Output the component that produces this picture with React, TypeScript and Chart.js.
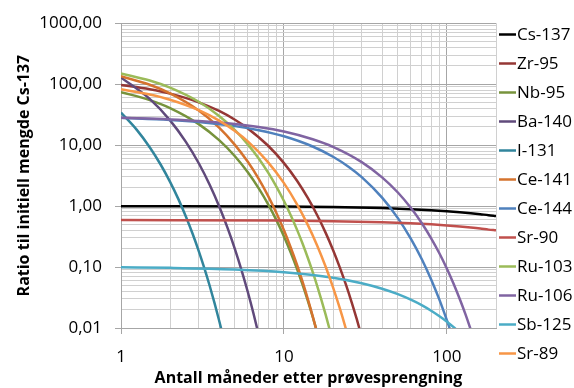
import React, { useEffect, useRef } from 'react';
import { Chart, registerables } from 'chart.js';

Chart.register(...registerables);

// ---- Data (months after test, ratio to initial Cs-137 amount) ----
const seriesNames = ['Cs-137', 'Zr-95', 'Nb-95', 'Ba-140', 'I-131', 'Ce-141', 'Ce-144', 'Sr-90', 'Ru-103', 'Ru-106', 'Sb-125', 'Sr-89'];
const seriesColors = ['#000000', '#953735', '#77933C', '#604A7B', '#31859C', '#D5732E', '#4F81BD', '#C0504D', '#9BBB59', '#8064A2', '#4BACC6', '#F79646'];

const cs137T = [1, 10, 20, 40, 60, 80, 100, 120, 140, 160, 180, 200];
const cs137V = [0.998, 0.981, 0.962, 0.926, 0.891, 0.858, 0.826, 0.795, 0.765, 0.736, 0.709, 0.69];

const zr95T = [1, 1.5, 2, 3, 4, 5, 6, 8, 10, 12, 14, 16, 18, 20, 22, 24, 26, 28, 30, 31];
const zr95V = [97.0, 82.3, 69.9, 50.4, 36.3, 26.1, 18.8, 9.77, 5.07, 2.63, 1.36, 0.707, 0.367, 0.1905, 0.0988, 0.0513, 0.0266, 0.0138, 0.00717, 0.00517];

const nb95T = [1, 1.5, 2, 3, 4, 5, 6, 7, 8, 9, 10, 11, 12, 13, 14, 15, 16, 17];
const nb95V = [74.1, 54.7, 40.5, 22.1, 12.05, 6.57, 3.58, 1.95, 1.067, 0.582, 0.318, 0.173, 0.0944, 0.0515, 0.0281, 0.0153, 0.00837, 0.00456];

const ba140T = [1, 1.5, 2, 2.5, 3, 3.5, 4, 4.5, 5, 5.5, 6, 6.5, 7, 7.5];
const ba140V = [128.8, 57.3, 25.5, 11.3, 5.04, 2.24, 0.995, 0.443, 0.197, 0.0875, 0.0389, 0.0173, 0.00769, 0.00343];

const i131T = [1, 1.25, 1.5, 1.75, 2, 2.25, 2.5, 2.75, 3, 3.25, 3.5, 3.75, 4, 4.25, 4.5];
const i131V = [34.2, 17.8, 9.25, 4.81, 2.5, 1.3, 0.676, 0.352, 0.183, 0.0949, 0.0493, 0.0256, 0.0133, 0.00693, 0.0036];

const ce141T = [1, 1.5, 2, 3, 4, 5, 6, 7, 8, 9, 10, 11, 12, 13, 14, 15, 16, 17];
const ce141V = [134.9, 97.7, 70.6, 37.0, 19.4, 10.1, 5.32, 2.79, 1.46, 0.764, 0.4, 0.209, 0.11, 0.0574, 0.0301, 0.0157, 0.00824, 0.00432];

const ce144T = [1, 2, 3, 5, 7, 10, 15, 20, 25, 30, 40, 50, 60, 70, 80, 90, 100, 105, 110];
const ce144V = [28.0, 25.9, 24.0, 20.5, 17.6, 13.97, 9.49, 6.44, 4.38, 2.98, 1.375, 0.635, 0.293, 0.1355, 0.0625, 0.0289, 0.0133, 0.00906, 0.00615];

const sr90T = [1, 10, 20, 40, 60, 80, 100, 120, 140, 160, 180, 200];
const sr90V = [0.589, 0.578, 0.566, 0.543, 0.522, 0.502, 0.482, 0.463, 0.445, 0.428, 0.411, 0.4];

const ru103T = [1, 1.5, 2, 3, 4, 5, 6, 7, 8, 9, 10, 11, 12, 13, 14, 15, 16, 17, 18, 19, 20];
const ru103V = [150, 114.8, 87.8, 51.4, 30.1, 17.6, 10.3, 6.04, 3.53, 2.07, 1.21, 0.708, 0.415, 0.243, 0.142, 0.0832, 0.0487, 0.0285, 0.0167, 0.00977, 0.00573];

const ru106T = [1, 2, 3, 5, 7, 10, 15, 20, 30, 40, 50, 60, 70, 80, 90, 100, 110, 120, 130, 140, 145];
const ru106V = [28.0, 26.4, 24.9, 22.2, 19.8, 16.7, 12.5, 9.38, 5.27, 2.96, 1.67, 0.938, 0.527, 0.296, 0.167, 0.0938, 0.0527, 0.0296, 0.0167, 0.00938, 0.00703];

const sb125T = [1, 2, 5, 10, 20, 30, 40, 50, 60, 70, 80, 90, 100, 110, 120];
const sb125V = [0.099, 0.097, 0.0912, 0.0822, 0.0668, 0.0543, 0.0441, 0.0359, 0.0291, 0.0237, 0.0192, 0.0156, 0.0127, 0.0103, 0.0084];

const sr89T = [1, 1.5, 2, 3, 4, 5, 6, 8, 10, 12, 14, 16, 18, 20, 22, 24, 25];
const sr89V = [82.2, 67.5, 55.5, 37.4, 25.2, 17.0, 11.5, 5.22, 2.38, 1.08, 0.492, 0.224, 0.102, 0.0464, 0.0211, 0.00962, 0.00649];

const seriesTimes = [cs137T, zr95T, nb95T, ba140T, i131T, ce141T, ce144T, sr90T, ru103T, ru106T, sb125T, sr89T];
const seriesValues = [cs137V, zr95V, nb95V, ba140V, i131V, ce141V, ce144V, sr90V, ru103V, ru106V, sb125V, sr89V];

// ---- Axes ----
const xMin = 1;
const xMax = 200;
const yMin = 0.01;
const yMax = 1000;
const xTickValues = [1, 10, 100];
const xTickLabels = ['1', '10', '100'];
const yTickValues = [0.01, 0.1, 1, 10, 100, 1000];
const yTickLabels = ['0,01', '0,10', '1,00', '10,00', '100,00', '1000,00'];
const xTitle = 'Antall måneder etter prøvesprengning';
const yTitle = 'Ratio til initiell mengde Cs-137';

const FONT = '"Open Sans", "Noto Sans", sans-serif';

function gridValues(decades: number[], max: number): number[] {
  const out: number[] = [];
  for (const d of decades) {
    for (let k = 1; k <= 9; k++) {
      const v = Math.round(k * d * 1e6) / 1e6;
      if (v <= max) out.push(v);
    }
  }
  if (!out.includes(max)) out.push(max);
  return out;
}

const MAJOR = '#A6A6A6';
const MINOR = '#D0D0D0';

export default function App() {
  const ref = useRef<HTMLCanvasElement | null>(null);

  useEffect(() => {
    if (!ref.current) return;
    const xGrid = gridValues(xTickValues, xMax);
    const yGrid = gridValues(yTickValues.slice(0, -1), yMax);

    const textPlugin = {
      id: 'textPlugin',
      afterDraw(chart: any) {
        const ctx = chart.ctx as CanvasRenderingContext2D;
        const area = chart.chartArea;
        ctx.save();
        // legend
        ctx.font = `17px ${FONT}`;
        ctx.textBaseline = 'middle';
        ctx.textAlign = 'left';
        seriesNames.forEach((name, i) => {
          const y = 34.5 + 29 * i;
          ctx.strokeStyle = seriesColors[i];
          ctx.lineWidth = 2.5;
          ctx.beginPath();
          ctx.moveTo(area.right + 3, y);
          ctx.lineTo(area.right + 20, y);
          ctx.stroke();
          ctx.fillStyle = '#000000';
          ctx.fillText(name, area.right + 21, y + 1);
        });
        // axis titles
        ctx.font = `bold 16px ${FONT}`;
        ctx.textAlign = 'center';
        ctx.textBaseline = 'middle';
        ctx.fillText(xTitle, (area.left + area.right) / 2, 378);
        ctx.translate(24, (area.top + area.bottom) / 2);
        ctx.rotate(-Math.PI / 2);
        ctx.fillText(yTitle, 0, 0);
        ctx.restore();
      },
    };

    const chart = new Chart(ref.current, {
      type: 'line',
      data: {
        datasets: seriesNames.map((name, i) => ({
          label: name,
          data: seriesTimes[i].map((t, j) => ({ x: t, y: seriesValues[i][j] })),
          borderColor: seriesColors[i],
          backgroundColor: seriesColors[i],
          borderWidth: 2.5,
          pointRadius: 0,
          pointHoverRadius: 0,
          fill: false,
          cubicInterpolationMode: 'monotone' as const,
          clip: 0,
          order: seriesNames.length - i,
        })),
      },
      options: {
        animation: false,
        responsive: false,
        events: [],
        layout: { padding: { top: 22, right: 78, left: 0, bottom: 0 } },
        plugins: { legend: { display: false }, tooltip: { enabled: false } },
        scales: {
          x: {
            type: 'logarithmic',
            min: xMin,
            max: xMax,
            afterBuildTicks: (scale: any) => {
              scale.ticks = xGrid.map((v) => ({ value: v, major: xTickValues.includes(v) }));
            },
            afterFit: (scale: any) => {
              scale.height = 60;
            },
            ticks: {
              autoSkip: false,
              maxRotation: 0,
              padding: 13,
              color: '#000000',
              font: { family: FONT, size: 17 },
              callback: (value: any) => {
                const i = xTickValues.indexOf(Number(value));
                return i >= 0 ? xTickLabels[i] : '';
              },
            },
            grid: {
              color: (c: any) => (c.tick && c.tick.major ? MAJOR : MINOR),
              tickColor: (c: any) => (c.tick && c.tick.major ? MAJOR : 'rgba(0,0,0,0)'),
              tickLength: 6,
              lineWidth: 1,
            },
            border: { display: true, color: MAJOR, width: 1 },
          },
          y: {
            type: 'logarithmic',
            min: yMin,
            max: yMax,
            afterBuildTicks: (scale: any) => {
              scale.ticks = yGrid.map((v) => ({ value: v, major: yTickValues.includes(v) }));
            },
            afterFit: (scale: any) => {
              scale.width = 121;
            },
            ticks: {
              autoSkip: false,
              padding: 13,
              color: '#000000',
              font: { family: FONT, size: 17 },
              callback: (value: any) => {
                const i = yTickValues.indexOf(Number(value));
                return i >= 0 ? yTickLabels[i] : '';
              },
            },
            grid: {
              color: (c: any) => (c.tick && c.tick.major ? MAJOR : MINOR),
              tickColor: (c: any) => (c.tick && c.tick.major ? MAJOR : 'rgba(0,0,0,0)'),
              tickLength: 6,
              lineWidth: 1,
            },
            border: { display: true, color: MAJOR, width: 1 },
          },
        },
      },
      plugins: [textPlugin],
    } as any);

    return () => chart.destroy();
  }, []);

  return (
    <div style={{ position: 'absolute', left: 0, top: 0, width: 574, height: 388, background: '#ffffff' }}>
      <canvas ref={ref} width={574} height={388} style={{ display: 'block' }} />
    </div>
  );
}
